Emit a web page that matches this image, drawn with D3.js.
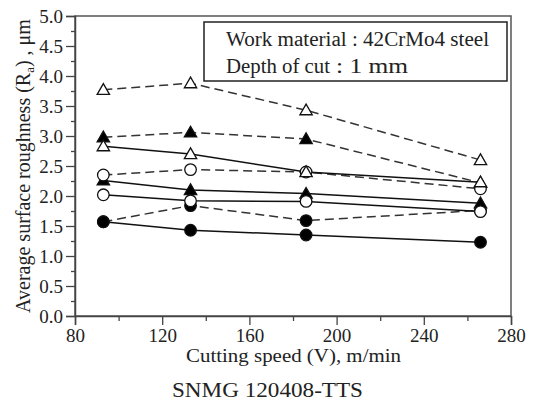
<!DOCTYPE html>
<html><head><meta charset="utf-8">
<script src="https://cdn.jsdelivr.net/npm/d3@7"></script>
<style>
html,body{margin:0;padding:0;background:#fff;}
svg{display:block;}
svg text{font-family:"Liberation Serif" !important;fill:#222;}
</style></head>
<body>
<svg id="c" width="534" height="405" font-family="Liberation Serif"></svg>
<script>
// ---- data ----
const speeds = [93, 133, 186, 266];
const openTriDashed   = [3.77, 3.88, 3.43, 2.60];
const filledTriDashed = [2.98, 3.06, 2.95, 2.22];
const openTriSolid    = [2.83, 2.70, 2.40, 2.23];
const openCircDashed  = [2.35, 2.44, 2.40, 2.12];
const filledTriSolid  = [2.26, 2.10, 2.04, 1.88];
const openCircSolid   = [2.02, 1.92, 1.91, 1.74];
const filledCircDashed= [1.57, 1.84, 1.59, 1.76];
const filledCircSolid = [1.57, 1.43, 1.35, 1.23];
const xTicks = [80, 120, 160, 200, 240, 280];
const yTicks = [0, 0.5, 1, 1.5, 2, 2.5, 3, 3.5, 4, 4.5, 5];
const legendLine1 = "Work material : 42CrMo4 steel";
const legendLine2a = "Depth of cut";
const legendLine2b = ": 1 mm";
const xTitle = "Cutting speed (V), m/min";
const caption = "SNMG 120408-TTS";

// series definitions (filled drawn first, open on top)
const series = [
  {vals: filledCircSolid, shape: "circle", filled: true, dashed: false},
  {vals: filledCircDashed, shape: "circle", filled: true, dashed: true},
  {vals: filledTriSolid, shape: "triangle", filled: true, dashed: false},
  {vals: filledTriDashed, shape: "triangle", filled: true, dashed: true},
  {vals: openCircSolid, shape: "circle", filled: false, dashed: false},
  {vals: openCircDashed, shape: "circle", filled: false, dashed: true},
  {vals: openTriSolid, shape: "triangle", filled: false, dashed: false},
  {vals: openTriDashed, shape: "triangle", filled: false, dashed: true}
];

const FONT = "Liberation Serif";
const svg = d3.select("#c");
const L = 75, R = 511, T = 16, B = 316;
const x = d3.scaleLinear().domain([80, 280]).range([L, R]);
const y = d3.scaleLinear().domain([0, 5]).range([B, T]);
const axisCol = "#444";

// frame
svg.append("rect").attr("x", L).attr("y", T).attr("width", R - L).attr("height", B - T)
  .attr("fill", "none").attr("stroke", "#555").attr("stroke-width", 1.5);

// minor ticks
const gxm = svg.append("g").attr("transform", `translate(0,${B})`)
  .call(d3.axisBottom(x).tickValues(d3.range(100, 280, 40)).tickSize(5).tickFormat(""));
const gym = svg.append("g").attr("transform", `translate(${L},0)`)
  .call(d3.axisLeft(y).tickValues(d3.range(0.25, 5, 0.5)).tickSize(4).tickFormat(""));
[gxm, gym].forEach(g => { g.select(".domain").remove(); g.selectAll("line").attr("stroke", axisCol).attr("stroke-width", 1.3); });

// major axes
const gx = svg.append("g").attr("transform", `translate(0,${B})`)
  .call(d3.axisBottom(x).tickValues(xTicks).tickSize(9).tickPadding(3).tickFormat(d3.format("d")));
const gy = svg.append("g").attr("transform", `translate(${L},0)`)
  .call(d3.axisLeft(y).tickValues(yTicks).tickSize(9).tickPadding(3).tickFormat(d3.format(".1f")));
[gx, gy].forEach(g => {
  g.attr("font-family", FONT).attr("font-size", 19);
  g.select(".domain").attr("stroke", axisCol).attr("stroke-width", 1.5);
  g.selectAll("line").attr("stroke", axisCol).attr("stroke-width", 1.3);
  g.selectAll("text").style("font-family", FONT).attr("font-size", 19).attr("fill", "#333");
});
gx.selectAll("text").attr("dy", null).attr("y", 26);
gy.selectAll("text").attr("x", -12).attr("dy", "0.34em");

// lines
const line = d3.line().x((d, i) => x(speeds[i])).y(d => y(d));
series.forEach(s => {
  svg.append("path").datum(s.vals).attr("d", line).attr("fill", "none")
    .attr("stroke", s.dashed ? "#333" : "#111").attr("stroke-width", 1.5)
    .attr("stroke-dasharray", s.dashed ? "9,5" : null);
});
// markers
const symTri = d3.symbol().type(d3.symbolTriangle).size(66);
series.forEach(s => {
  const g = svg.append("g");
  s.vals.forEach((v, i) => {
    if (s.shape === "circle") {
      g.append("circle").attr("cx", x(speeds[i])).attr("cy", y(v)).attr("r", 5.8)
        .attr("fill", s.filled ? "#000" : "#fff").attr("stroke", "#111").attr("stroke-width", 1.3);
    } else {
      g.append("path").attr("d", symTri).attr("transform", `translate(${x(speeds[i])},${y(v) + 1})`)
        .attr("fill", s.filled ? "#000" : "#fff").attr("stroke", "#111").attr("stroke-width", 1.3);
    }
  });
});

// legend box
svg.append("rect").attr("x", 204).attr("y", 22).attr("width", 303).attr("height", 59)
  .attr("fill", "#fff").attr("stroke", "#222").attr("stroke-width", 1.5);
function txt(xp, yp, size, s, len) {
  const t = svg.append("text").attr("x", xp).attr("y", yp).attr("font-size", size)
    .style("font-family", FONT).text(s);
  if (len) t.attr("textLength", len).attr("lengthAdjust", "spacingAndGlyphs");
  return t;
}
txt(226, 46, 20, legendLine1, 263);
txt(226, 73, 20, legendLine2a, 104);
txt(336, 73, 20, legendLine2b, 72);

// axis titles
txt(186, 362, 19, xTitle, 215);
txt(172, 397, 21, caption, 191);

const yt = svg.append("text").attr("transform", "translate(30,166) rotate(-90)")
  .attr("text-anchor", "middle").attr("font-size", 20).style("font-family", FONT);
yt.append("tspan").text("Average surface roughness (R");
yt.append("tspan").text("a").attr("font-size", 13).attr("dy", 4);
yt.append("tspan").text(") , \u03bcm").attr("dy", -4);
</script>
</body></html>
